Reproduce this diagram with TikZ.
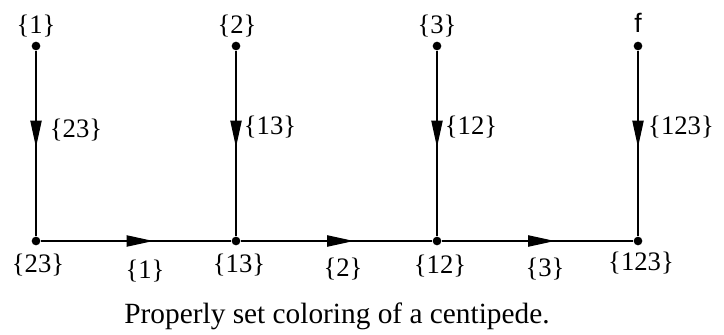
\documentclass[tikz,border=0pt]{standalone}
\usepackage{fontspec}
\setmainfont{Liberation Serif}
\newfontfamily\sansf{Liberation Sans}
\usetikzlibrary{arrows.meta,decorations.markings}
\begin{document}
\begin{tikzpicture}[x=0.75pt,y=-0.75pt,
  dot/.style={circle,fill=black,inner sep=0pt,minimum size=6.5pt},
  lab/.style={inner sep=0pt,font=\fontsize{20}{23}\selectfont},
  edge/.style={line width=0.8pt,postaction={decorate},
    decoration={markings,mark=at position #1 with {\arrow{Triangle[length=20pt,width=8.5pt]}}}},
  edge/.default=0.55]
\useasboundingbox (0,0) rectangle (724,335);
\foreach \n/\x in {1/36,2/236,3/437,4/638}{
  \node[dot] (t\n) at (\x,46) {};
  \node[dot] (b\n) at (\x,241) {};
}
\draw[edge=0.52] (t1) -- (b1);
\draw[edge=0.52] (t2) -- (b2);
\draw[edge=0.52] (t3) -- (b3);
\draw[edge=0.52] (t4) -- (b4);
\draw[edge=0.59] (b1) -- (b2);
\draw[edge=0.59] (b2) -- (b3);
\draw[edge=0.59] (b3) -- (b4);
\node[lab] (lt1) at (36,26) {\{1\}};
\node[lab] (lt2) at (237,26) {\{2\}};
\node[lab] (lt3) at (437,26) {\{3\}};
\node[inner sep=0pt,font=\sansf\fontsize{20}{23}\selectfont] (lt4) at (638,23) {f};
\node[lab] (lv1) at (76,130) {\{23\}};
\node[lab] (lv2) at (270,127) {\{13\}};
\node[lab] (lv3) at (471,127) {\{12\}};
\node[lab] (lv4) at (681,127) {\{123\}};
\node[lab] (lb1) at (38,265) {\{23\}};
\node[lab] (le1) at (145,271) {\{1\}};
\node[lab] (lb2) at (239,265) {\{13\}};
\node[lab] (le2) at (343,269) {\{2\}};
\node[lab] (lb3) at (440,266) {\{12\}};
\node[lab] (le3) at (545,269) {\{3\}};
\node[lab] (lb4) at (641,263) {\{123\}};
\node[inner sep=0pt,font=\fontsize{22}{26}\selectfont] (cap) at (337,316) {Properly set coloring of a centipede.};
\end{tikzpicture}
\end{document}
